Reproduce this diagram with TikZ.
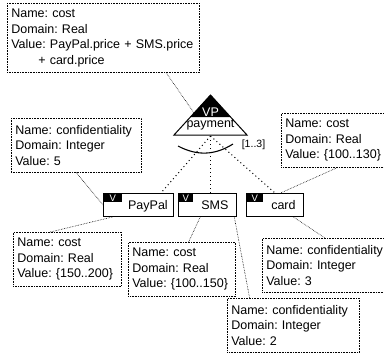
\documentclass[tikz,border=0pt]{standalone}
\usepackage{fontspec}
\setmainfont{Liberation Sans}
\usetikzlibrary{calc}
\newcommand\attrfont{\fontsize{12.5}{15.5}\selectfont\frenchspacing}
\newcommand\tabfont{\fontsize{9.5}{10}\selectfont}
\newcommand\rangefont{\fontsize{10.5}{12}\selectfont}
\tikzset{
  attr/.style={draw, densely dotted, line width=0.6pt, anchor=north west, align=left,
    inner xsep=4pt, inner ysep=0pt, minimum height=54pt, font=\attrfont},
  feat/.style={draw, line width=0.9pt, anchor=north west, minimum height=23pt,
    inner sep=0pt, text height=9pt, text depth=0pt, font=\attrfont},
  tabv/.style={anchor=north west, fill=black, text=white, inner sep=0pt,
    minimum height=9pt, text height=7pt, text depth=0pt, font=\tabfont},
  link/.style={densely dotted, line width=0.6pt},
  grp/.style={line width=1pt, dash pattern=on 1pt off 3pt},
}
\begin{document}
\begin{tikzpicture}[x=1pt, y=-1pt]
  \useasboundingbox (0,0) rectangle (384,354);
  % attribute boxes
  \node[attr, text width=184pt, minimum height=69pt] (topcost) at (7,3)
    {Name: cost\\Domain: Real\\Value: PayPal.price + SMS.price\\\hspace*{27pt}+ card.price};
  \node[attr, text width=122pt] (confpay) at (11,118) {Name: confidentiality\\Domain: Integer\\Value: 5};
  \node[attr, text width=104pt] (costcard) at (281,113) {Name: cost\\Domain: Real\\Value: \{100..130\}};
  \node[attr, text width=100pt] (costpay) at (13,232) {Name: cost\\Domain: Real\\Value: \{150..200\}};
  \node[attr, text width=99pt] (costsms) at (128,242) {Name: cost\\Domain: Real\\Value: \{100..150\}};
  \node[attr, text width=124pt] (confcard) at (262,238) {Name: confidentiality\\Domain: Integer\\Value: 3};
  \node[attr, text width=124pt] (confsms) at (227,298) {Name: confidentiality\\Domain: Integer\\Value: 2};

  % variation point
  \coordinate (vpApex) at (210.5,95);
  \coordinate (vpLeft) at (174,135);
  \coordinate (vpRight) at (247,135);
  \coordinate (vpBase) at (210.5,136);
  \coordinate (vpIn) at ($(vpApex)!.45!(vpLeft)$);
  \fill (vpApex) -- ($(vpApex)!.55!(vpLeft)$) -- ($(vpApex)!.55!(vpRight)$) -- cycle;
  \draw[line width=1pt] (vpApex) -- (vpLeft) -- (vpRight) -- cycle;
  \node[anchor=base, text=white, inner sep=0pt, font=\attrfont] (vpLabel) at (210.5,116) {VP};
  \node[anchor=base, inner sep=0pt, font=\attrfont] (vpName) at (210.5,127.5) {payment};

  % group cardinality
  \coordinate (arcL) at (178,146);
  \coordinate (arcR) at (233,144);
  \draw[line width=1.1pt] (arcL) to[bend right=30] (arcR);
  \node[inner sep=0pt, font=\rangefont] (range) at (253.5,144.5) {[1..3]};

  % variants
  \node[feat, minimum width=70pt] (paypal) at (103,193) {\hspace*{19pt}PayPal};
  \node[feat, minimum width=58pt] (sms) at (178,193) {\hspace*{15pt}SMS};
  \node[feat, minimum width=57pt] (card) at (246,193) {\hspace*{17pt}card};
  \node[tabv, minimum width=19pt] (paypalV) at (paypal.north west) {V};
  \node[tabv, minimum width=15pt] (smsV) at (sms.north west) {V};
  \node[tabv, minimum width=17pt] (cardV) at (card.north west) {V};

  \draw[grp] (vpBase) -- (paypal.28);
  \draw[grp] (vpBase) -- (vpBase |- sms.north);
  \draw[grp] (vpBase) -- (card.north);

  % attribute links
  \draw[link] (topcost.-29) -- (vpIn);
  \draw[link] (confpay.south) -- (paypal.west);
  \draw[link] (costcard.south) -- (card.65);
  \draw[link] (costpay.122) -- (paypal.-155);
  \draw[link] (costsms.76) -- (sms.-121);
  \draw[link] (sms.-24) -- (confsms.148);
  \draw[link] (card.-33) -- (confcard.97);
\end{tikzpicture}
\end{document}
